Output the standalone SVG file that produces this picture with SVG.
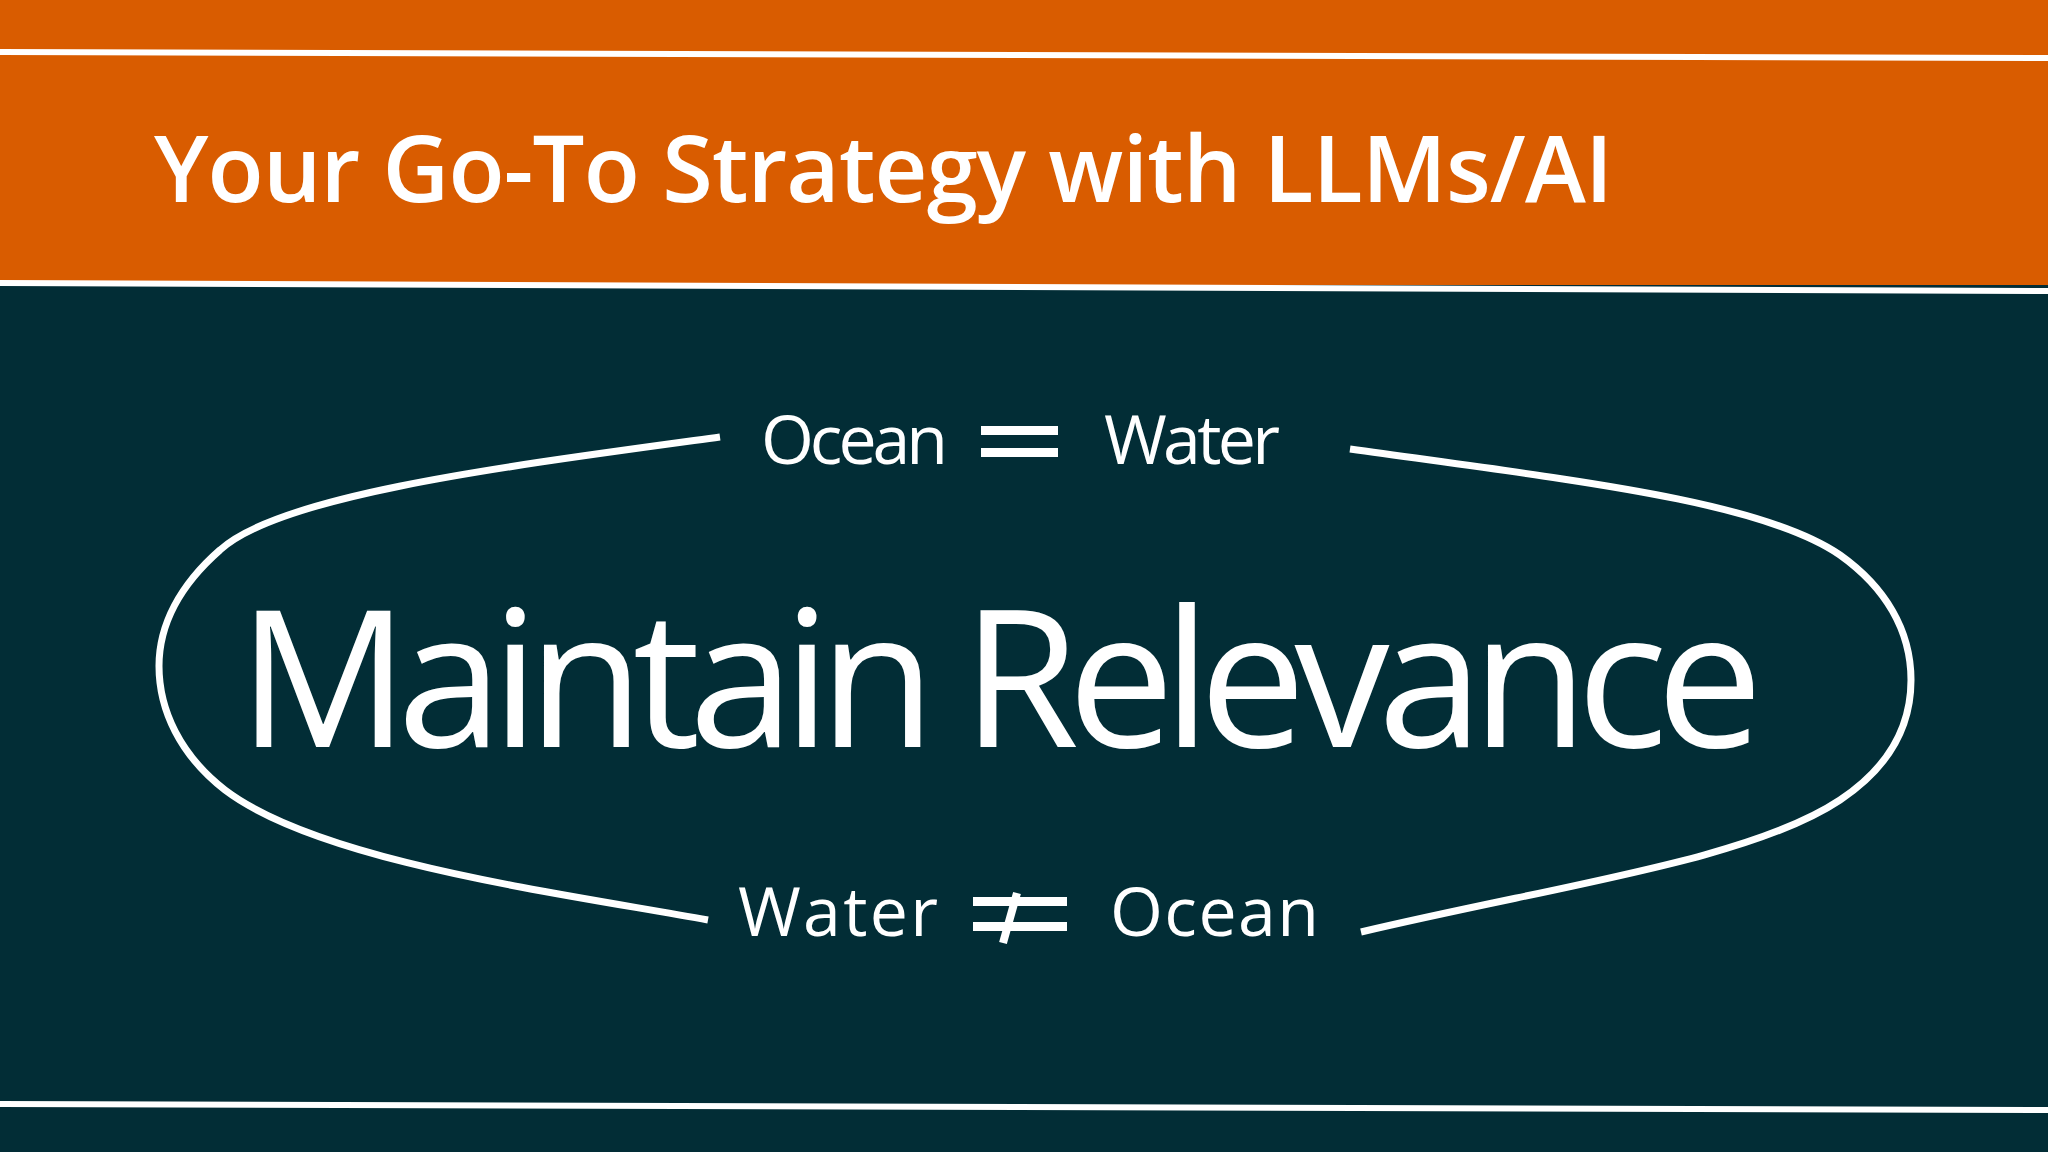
<svg xmlns="http://www.w3.org/2000/svg" width="2048" height="1152" viewBox="0 0 2048 1152">
<style>
.t{fill:#fff;font-family:"Open Sans","Noto Sans",sans-serif}
.ln{stroke:#fff;stroke-width:6;fill:none}
.loop{stroke:#fff;stroke-width:7;fill:none;stroke-linecap:butt}
</style>
<rect width="2048" height="1152" fill="#022d36"/>
<rect width="2048" height="285" fill="#d95c00"/>
<g id="frame-lines">
<line class="ln" x1="0" y1="52" x2="2048" y2="58"/>
<line class="ln" x1="0" y1="283" x2="2048" y2="291"/>
<line class="ln" x1="0" y1="1104" x2="2048" y2="1110"/>
</g>
<g id="title"><text class="t" x="154" y="202" font-size="92" font-weight="600" textLength="1459" lengthAdjust="spacing">Your Go-To Strategy with LLMs/AI</text></g>
<g id="connectors">
<path class="loop" d="M720,437 C500,467 280,495 220,550 C180,585 159,625 159,666 C159,710 180,755 225,790 C320,862 560,893 708,920"/>
<path class="loop" d="M1350,449 C1570,480 1760,500 1840,555 C1885,587 1911,630 1911,680 C1911,730 1885,770 1840,800 C1750,860 1560,885 1361,932"/>
</g>
<g id="top-equation">
<text class="t" x="761" y="464" font-size="68" textLength="187" lengthAdjust="spacing">Ocean</text>
<rect x="981" y="426" width="77" height="9" fill="#fff"/>
<rect x="981" y="448" width="77" height="9" fill="#fff"/>
<text class="t" x="1104" y="464" font-size="68" textLength="176" lengthAdjust="spacing">Water</text>
</g>
<g id="main"><text class="t" x="238" y="747" font-size="190" textLength="1525" lengthAdjust="spacing">Maintain Relevance</text></g>
<g id="bottom-equation">
<text class="t" x="738" y="936" font-size="68" textLength="200" lengthAdjust="spacing">Water</text>
<rect x="973" y="897" width="94" height="9" fill="#fff"/>
<rect x="973" y="922" width="94" height="9" fill="#fff"/>
<line x1="1017" y1="893" x2="1003" y2="943" stroke="#fff" stroke-width="8"/>
<text class="t" x="1110" y="936" font-size="68" textLength="209" lengthAdjust="spacing">Ocean</text>
</g>
</svg>
